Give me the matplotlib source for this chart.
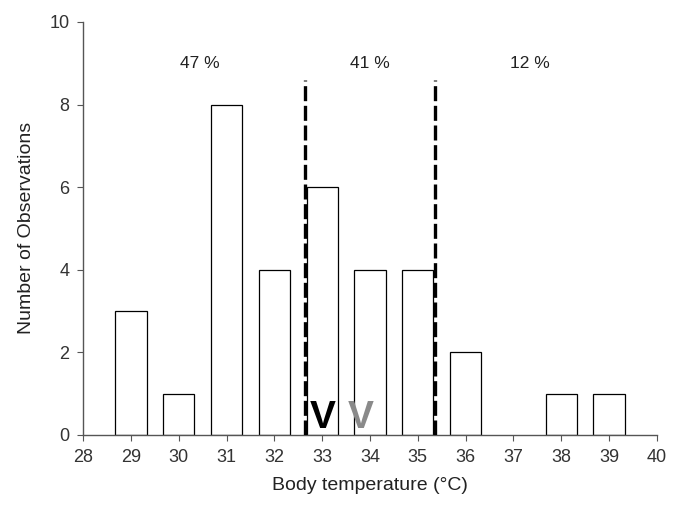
import numpy as np
import matplotlib.pyplot as plt

plt.rcParams['font.family'] = ['Liberation Sans', 'DejaVu Sans']

# 数据
temps = [29, 30, 31, 32, 33, 34, 35, 36, 37, 38, 39]
counts = [3, 1, 8, 4, 6, 4, 4, 2, 0, 1, 1]
cut_points = [32.63, 35.35]
pct_labels = ['47 %', '41 %', '12 %']
pct_x = [30.45, 34.0, 37.35]
mean_marks = [33.0, 33.8]
mark_colors = ['black', '#8a8a8a']
mark_weights = ['bold', 'bold']

fig = plt.figure(figsize=(6.82, 5.11), dpi=100)
ax = fig.add_axes([0.122, 0.149, 0.841, 0.808])

# 只画非零的柱子
t = np.array(temps)
c = np.array(counts)
nz = c > 0
ax.bar(t[nz], c[nz], width=0.65, color='white', edgecolor='black', linewidth=0.9, zorder=2)

# 分界虚线
for cp in cut_points:
    ax.plot([cp, cp], [0, 8.6], color='black', linewidth=2.4, linestyle=(0, (4.5, 1.4)), zorder=3)

for x, s in zip(pct_x, pct_labels):
    ax.text(x, 9.0, s, ha='center', va='center', fontsize=12.5, color='#222222')

# V 标记
for x, col, w in zip(mean_marks, mark_colors, mark_weights):
    ax.text(x, -0.02, 'V', color=col, ha='center', va='bottom', fontsize=28, fontweight=w, zorder=4)

ax.set_xlim(28, 40)
ax.set_ylim(0, 10)
ax.set_xticks(np.arange(28, 41, 1))
ax.set_yticks(np.arange(0, 11, 2))
ax.spines['top'].set_visible(False)
ax.spines['right'].set_visible(False)
for s in ['left', 'bottom']:
    ax.spines[s].set_color('#555555')
    ax.spines[s].set_linewidth(1.0)
ax.tick_params(direction='out', length=4, color='#555555', labelcolor='#333333', labelsize=13, pad=6)
ax.set_xlabel('Body temperature (°C)', fontsize=14, labelpad=8, color='#222222')
ax.set_ylabel('Number of Observations', fontsize=14, labelpad=10, color='#222222')

plt.savefig('out.png', dpi=100)
